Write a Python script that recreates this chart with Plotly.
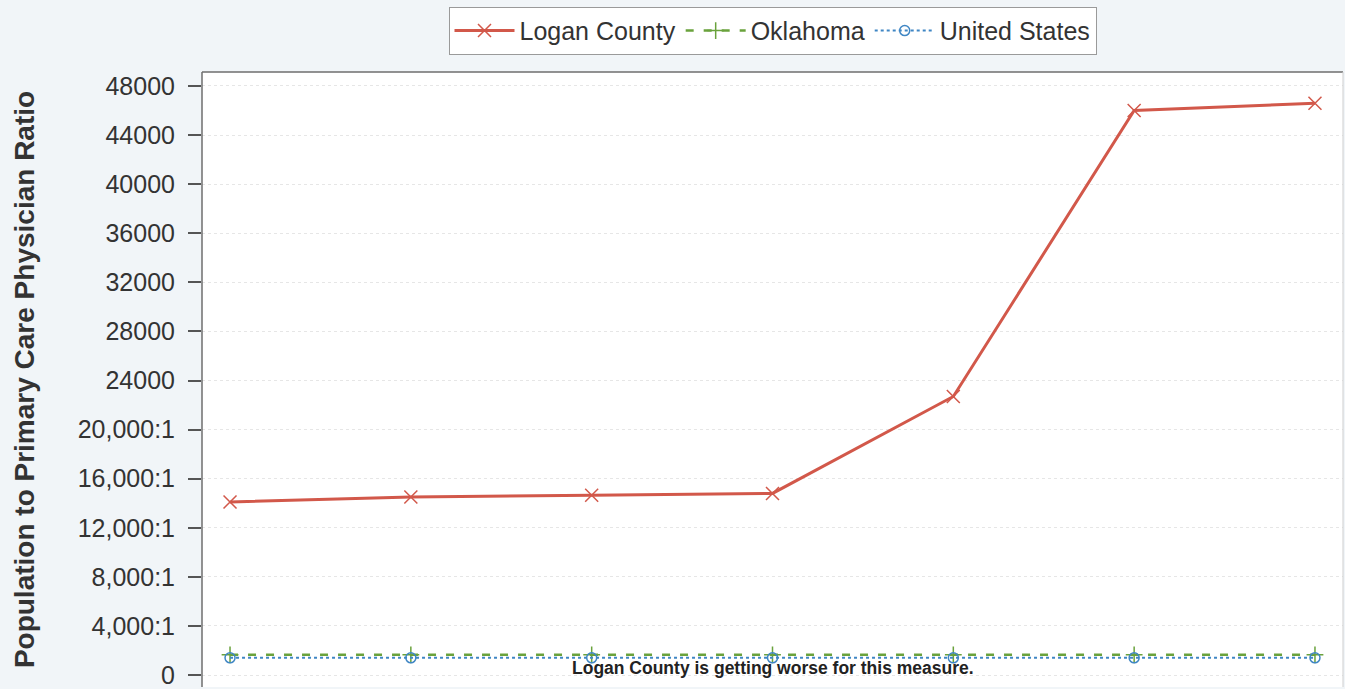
import plotly.graph_objects as go

years = ["2011", "2012", "2013", "2014", "2015", "2016", "2017"]
logan_county = [14100, 14500, 14650, 14800, 22700, 46000, 46600]
oklahoma = [1650, 1650, 1650, 1650, 1650, 1650, 1650]
united_states = [1400, 1400, 1400, 1400, 1400, 1400, 1400]

tick_vals = [0, 4000, 8000, 12000, 16000, 20000, 24000, 28000, 32000, 36000, 40000, 44000, 48000]
tick_text = ["0", "4,000:1", "8,000:1", "12,000:1", "16,000:1", "20,000:1",
             "24000", "28000", "32000", "36000", "40000", "44000", "48000"]

RED = "#d2584a"
GREEN = "#6aa23c"
BLUE = "#3f86c4"

x_idx = list(range(len(years)))

fig = go.Figure()
fig.add_trace(go.Scatter(
    x=x_idx, y=logan_county, name="Logan County", mode="lines+markers",
    line=dict(color=RED, width=3),
    marker=dict(symbol="x-thin-open", size=13, color=RED, line=dict(color=RED, width=1.5)),
))
fig.add_trace(go.Scatter(
    x=x_idx, y=oklahoma, name="Oklahoma", mode="lines+markers",
    line=dict(color=GREEN, width=2.5, dash="8px,10px"),
    marker=dict(symbol="cross-thin-open", size=12, color=GREEN, line=dict(color=GREEN, width=1.5)),
))
fig.add_trace(go.Scatter(
    x=x_idx, y=united_states, name="United States", mode="lines+markers",
    line=dict(color=BLUE, width=2, dash="dot"),
    marker=dict(symbol="circle-open", size=10, color=BLUE, line=dict(color=BLUE, width=1.5)),
))

fig.add_annotation(
    x=3, y=560, xref="x", yref="y",
    text="<b>Logan County is getting worse for this measure.</b>",
    showarrow=False, font=dict(family="Liberation Sans, Arial", size=17.5, color="#222222"),
    yanchor="middle", xanchor="center",
)

# plot frame: left, top, right (bottom is cut off)
frame = dict(color="#6e6e6e", width=1.5)
fig.add_shape(type="line", xref="paper", yref="paper", x0=0, x1=0, y0=0, y1=1, line=frame)
fig.add_shape(type="line", xref="paper", yref="paper", x0=0, x1=1, y0=1, y1=1, line=frame)
fig.add_shape(type="line", xref="paper", yref="paper", x0=1, x1=1, y0=0, y1=1,
              line=dict(color="#cfcfcf", width=1))

fig.update_layout(
    width=1345, height=689,
    margin=dict(l=202, r=2, t=72, b=0),
    paper_bgcolor="#f1f5f8",
    plot_bgcolor="#ffffff",
    font=dict(family="Liberation Sans, Arial", color="#333333"),
    showlegend=True,
    legend=dict(
        orientation="h", x=0.5, xanchor="center", y=1.106, yanchor="top",
        font=dict(size=25, color="#333333"),
        bgcolor="#ffffff", bordercolor="#9a9a9a", borderwidth=1,
        itemwidth=60, tracegroupgap=0,
    ),
    xaxis=dict(
        range=[-0.155, 6.155], showticklabels=False, ticks="", showgrid=False,
        zeroline=False, showline=False,
    ),
    yaxis=dict(
        range=[-975, 49140], tickvals=tick_vals, ticktext=tick_text,
        ticks="outside", ticklen=13, tickwidth=1.5, tickcolor="#555555",
        tickfont=dict(size=25, color="#333333"), ticklabelstandoff=8,
        ticklabeloverflow="allow",
        showgrid=True, gridcolor="#e6e6e6", griddash="dot", gridwidth=1,
        zeroline=False, showline=False,
        title=dict(text="<b>Population to Primary Care Physician Ratio</b>",
                   font=dict(size=28, color="#333333"), standoff=34),
    ),
)

fig.write_html("out.html", config={"displayModeBar": False},
               post_script="document.body.style.margin='0';document.body.style.overflow='hidden';")
